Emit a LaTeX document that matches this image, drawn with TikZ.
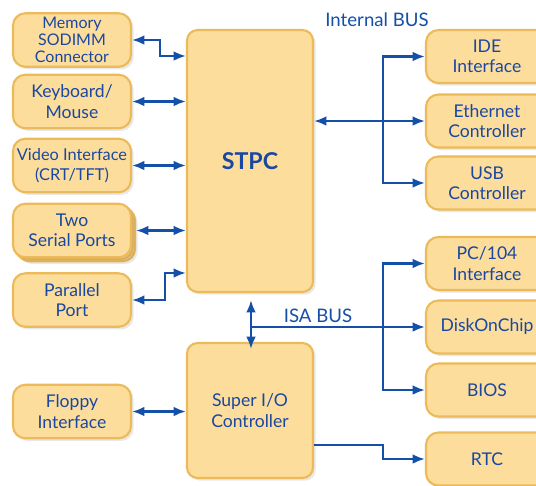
\documentclass[tikz,border=0pt]{standalone}
\usepackage{fontspec}
\setmainfont{Lato}
\usepackage{tikz}
\usetikzlibrary{shapes,arrows,arrows.meta,positioning,calc,shadows}
\definecolor{boxfill}{RGB}{252,221,156}
\definecolor{boxline}{RGB}{236,186,88}
\definecolor{busblue}{RGB}{20,80,168}
\definecolor{txtblue}{RGB}{26,72,160}
\tikzset{
box/.style = {draw=boxline, fill=boxfill, line width=1.2pt, rounded corners=7pt, align=center,
  text=txtblue, inner sep=0pt, font=\fontsize{10}{11.5}\selectfont,
  drop shadow={opacity=0.18, shadow xshift=1.5pt, shadow yshift=-1.5pt}},
leftbox/.style = {box, minimum width=2.36cm, minimum height=1.07cm},
rightbox/.style = {box, minimum width=2.44cm, minimum height=1.06cm},
chip/.style = {box, rounded corners=6pt, minimum width=2.52cm},
bus/.style = {draw=busblue, line width=1.3pt},
buslabel/.style = {text=busblue, font=\fontsize{10.6}{12}\selectfont}
}
\begin{document}
\begin{tikzpicture}[x=0.02cm, y=-0.02cm, >={Latex[length=7pt,width=5.5pt]}]
    \clip (0,0) rectangle (536,485);
    \fill[white] (0,0) rectangle (536,485);
    % main chips
    \node [chip, minimum height=5.24cm] (stpc) at (250,161) {\fontsize{13.2}{15}\selectfont\bfseries STPC};
    \node [chip, minimum height=2.7cm] (sio) at (250,410.5) {Super I/O\\Controller};
    % left side
    \node [leftbox, font=\fontsize{9.1}{9.8}\selectfont] (mem) at (72,40) {Memory\\SODIMM\\Connector};
    \node [leftbox] (kbd) at (72,101.5) {Keyboard/\\Mouse};
    \node [leftbox, font=\fontsize{9.3}{11.5}\selectfont] (vid) at (72,165.5) {Video Interface\\(CRT/TFT)};
    \node [leftbox] (ser2) at (76,234.5) {};
    \node [leftbox] (ser1) at (74,232.5) {};
    \node [leftbox] (ser) at (72,230.5) {Two\\Serial Ports};
    \node [leftbox] (par) at (72,300) {Parallel\\Port};
    \node [leftbox] (flp) at (72,411.5) {Floppy\\Interface};
    % right side
    \node [rightbox] (ide) at (487,56.5) {IDE\\Interface};
    \node [rightbox] (eth) at (487,121) {Ethernet\\Controller};
    \node [rightbox] (usb) at (487,183) {USB\\Controller};
    \node [rightbox] (pc104) at (487,263.5) {PC/104\\Interface};
    \node [rightbox] (doc) at (487,327) {DiskOnChip};
    \node [rightbox] (bios) at (487,390) {BIOS};
    \node [rightbox] (rtc) at (487,459) {RTC};
    % bus labels
    \node [buslabel] (ibuslbl) at (377,20) {Internal BUS};
    \node [buslabel] (isalbl) at (318,316) {ISA BUS};
    % helper points
    \coordinate (memjog) at (160,56);
    \coordinate (parjog) at (165,273);
    \coordinate (ibus) at (383,121);
    \coordinate (isa) at (251,327);
    \coordinate (isab) at (383,327);
    \coordinate (rtcjog) at (383,445);
    % left links
    \draw [bus, <->] (mem.east) -| (memjog) -- (stpc.west |- memjog);
    \draw [bus, <->] (kbd.east) -- (stpc.west |- kbd.east);
    \draw [bus, <->] (vid.east) -- (stpc.west |- vid.east);
    \draw [bus, <->] (ser2.east |- ser.east) -- (stpc.west |- ser.east);
    \draw [bus, <->] (par.east) -| (parjog) -- (stpc.west |- parjog);
    \draw [bus, <->] (flp.east) -- (sio.west |- flp.east);
    % internal bus
    \draw [bus, ->] (ibus) -- (stpc.east |- ibus);
    \draw [bus, ->] (ibus) |- (ide.west);
    \draw [bus, ->] (ibus) -- (eth.west);
    \draw [bus, ->] (ibus) |- (usb.west);
    % ISA bus
    \draw [bus, <->, shorten <=4pt, shorten >=-4pt] (stpc.south -| isa) -- (sio.north -| isa);
    \draw [bus] (isa) -- (isab);
    \draw [bus, ->] (isab) |- (pc104.west);
    \draw [bus, ->] (isab) -- (doc.west);
    \draw [bus, ->] (isab) |- (bios.west);
    \draw [bus, ->] (sio.east |- rtcjog) -- (rtcjog) |- (rtc.west);
\end{tikzpicture}
\end{document}
